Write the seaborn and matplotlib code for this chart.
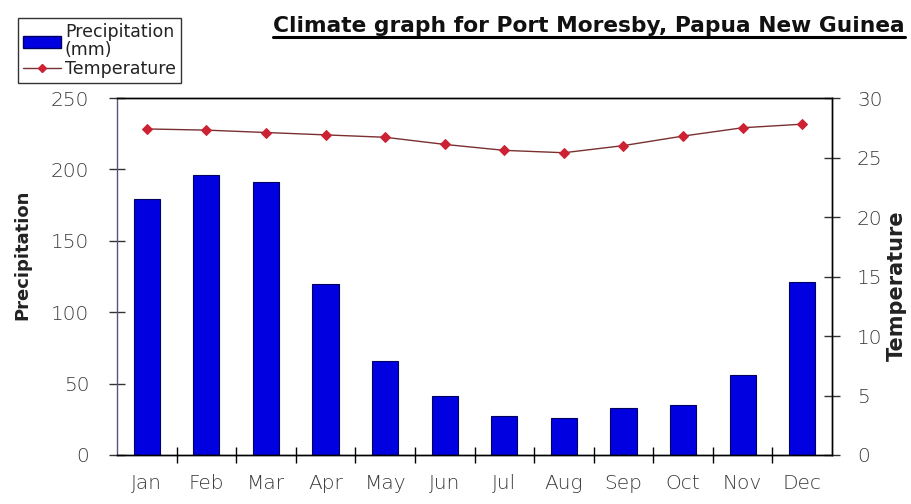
import matplotlib
matplotlib.use("Agg")
import matplotlib.pyplot as plt
import seaborn as sns
import numpy as np
import pandas as pd
from matplotlib.patches import Patch
from matplotlib.lines import Line2D
from matplotlib.ticker import FixedLocator, NullFormatter

months = ["Jan", "Feb", "Mar", "Apr", "May", "Jun", "Jul", "Aug", "Sep", "Oct", "Nov", "Dec"]
precip = [179, 196, 191, 120, 66, 41, 27, 26, 33, 35, 56, 121]
temp = [27.4, 27.3, 27.1, 26.9, 26.7, 26.1, 25.6, 25.4, 26.0, 26.8, 27.5, 27.8]
precip_ticks = [0, 50, 100, 150, 200, 250]
temp_ticks = [0, 5, 10, 15, 20, 25, 30]

sns.set_theme(style="white")
plt.rcParams['font.family'] = ['DejaVu Sans']

df = pd.DataFrame({"month": months, "precip": precip, "temp": temp})

W, H = 911, 504
fig = plt.figure(figsize=(W / 100, H / 100), dpi=100)
ax = fig.add_axes([117 / W, 49 / H, 715 / W, 357 / H])

sns.barplot(data=df, x="month", y="precip", ax=ax, color="#0000E0",
            saturation=1, width=0.44, edgecolor="#000060", linewidth=0.8)
ax2 = ax.twinx()
sns.pointplot(data=df, x="month", y="temp", ax=ax2, color="#7a3030",
              markers="D", markersize=5, linewidth=1.0, errorbar=None)
for ln in ax2.lines:
    ln.set_markerfacecolor("#cc2233")
    ln.set_markeredgecolor("#cc2233")

ax.set_xlim(-0.5, len(months) - 0.5)
ax2.set_xlim(-0.5, len(months) - 0.5)
ax.set_ylim(0, 250)
ax2.set_ylim(0, 30)
ax.set_yticks(precip_ticks)
ax2.set_yticks(temp_ticks)
ax.set_xticks(range(len(months)))
ax.set_xticklabels(months)
ax.xaxis.set_minor_locator(FixedLocator(np.arange(0.5, len(months) - 0.5, 1)))
ax.xaxis.set_minor_formatter(NullFormatter())

tick_col = "#3a3a3a"
fs = 14.5
ax.tick_params(axis="x", which="major", length=0, pad=14, labelsize=fs, labelcolor=tick_col)
ax.tick_params(axis="x", which="minor", length=12, direction="inout", width=1, color="black", bottom=True)
ax.tick_params(axis="y", length=12, direction="inout", width=1, color="#333333", pad=14,
               labelsize=fs, labelcolor=tick_col, left=True)
ax2.tick_params(axis="y", length=12, direction="inout", width=1, color="#333333", pad=12,
                labelsize=fs, labelcolor=tick_col, right=True)
for lab in ax.get_xticklabels() + ax.get_yticklabels() + ax2.get_yticklabels():
    lab.set_fontweight("light")
ax.set_xlabel("")
ax.set_ylabel("")
ax2.set_ylabel("")

for a in (ax, ax2):
    for s in a.spines.values():
        s.set_visible(True)
        s.set_color("black")
        s.set_linewidth(1)
ax.spines["left"].set_color("#555577")
ax2.spines["left"].set_visible(False)

fig.text(22 / W, 1 - 255 / H, "Precipitation", rotation=90, ha="center", va="center",
         fontsize=13, fontweight="bold", color="#222222")
fig.text(897 / W, 1 - 286 / H, "Temperature", rotation=90, ha="center", va="center",
         fontsize=15, fontweight="bold", color="#222222")

title = fig.text(905 / W, 1 - 32 / H, "Climate graph for Port Moresby, Papua New Guinea",
                 ha="right", va="baseline", fontsize=14, fontweight="bold", color="#111111")
fig.canvas.draw()
bb = title.get_window_extent()
title.set_fontsize(14 * 635 / bb.width)
fig.canvas.draw()
bb = title.get_window_extent()
yl = (H - 37) / H
fig.add_artist(Line2D([bb.x0 / W, bb.x1 / W], [yl, yl],
                      transform=fig.transFigure, color="black", linewidth=2.2))

handles = [Patch(facecolor="#0000E0", edgecolor="#000060"),
           Line2D([0], [0], color="#7a3030", marker="D", markersize=4,
                  markerfacecolor="#cc2233", markeredgecolor="#cc2233", linewidth=1)]
leg = fig.legend(handles, ["Precipitation\n(mm)", "Temperature"], loc="upper left",
                 bbox_to_anchor=(18 / W, 1 - 18 / H), fontsize=12.5, frameon=True, fancybox=False,
                 borderpad=0.3, labelspacing=0.05, handlelength=2.2, handletextpad=0.2,
                 borderaxespad=0)
leg.get_frame().set_edgecolor("black")
leg.get_frame().set_linewidth(1)
for t in leg.get_texts():
    t.set_color("#222222")
    t.set_linespacing(1.0)

fig.savefig("out.png", dpi=100)
